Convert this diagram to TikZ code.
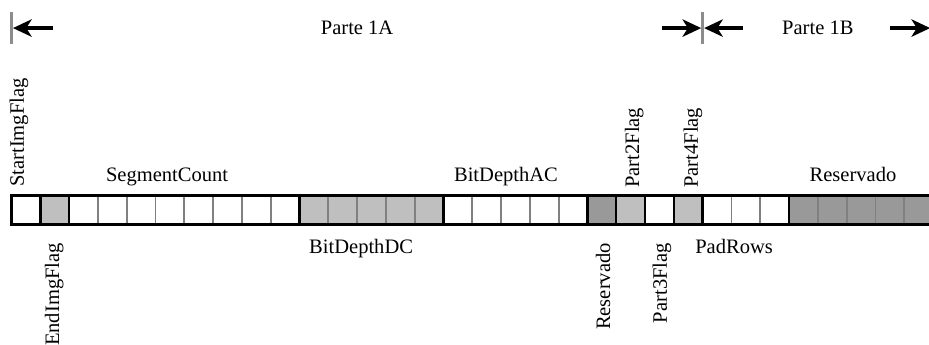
\documentclass[tikz,border=0pt]{standalone}
\usepackage{fontspec}
\setmainfont{Liberation Serif}
\usetikzlibrary{arrows.meta}
\definecolor{lightbit}{gray}{0.75}
\definecolor{darkbit}{gray}{0.6}
\tikzset{
  bitlabel/.style={inner sep=0pt,font=\fontsize{15.4}{18}\selectfont},
  uplabel/.style={bitlabel,rotate=90,anchor=west},
  downlabel/.style={bitlabel,rotate=90,anchor=east},
  partspan/.style={line width=2.4pt,-{Stealth[length=14pt,width=13pt,inset=4pt]}},
  partbound/.style={draw=black!45,line width=2pt},
  cellsep/.style={draw=black!50,line width=1.3pt},
  fieldbox/.style={draw=black,line width=1.8pt}
}
\begin{document}
\begin{tikzpicture}[x=21.6pt,y=21.6pt]
\useasboundingbox (-0.4,-4.184) rectangle (31.86,7.795);
% bit fields
\foreach \s/\e/\c in {0/1/white,1/2/lightbit,2/10/white,10/15/lightbit,15/20/white,
  20/21/darkbit,21/22/lightbit,22/23/white,23/24/lightbit,24/27/white,27/32/darkbit}
  \fill[\c](\s,0) rectangle (\e,1);
\foreach \i in {1,...,31}
  \draw[cellsep](\i,0)--(\i,1);
\foreach \s/\e in {0/1,1/2,2/10,10/15,15/20,20/21,21/22,22/23,23/24,24/27,27/32}
  \draw[fieldbox](\s,0) rectangle (\e,1);
% parts
\draw[partbound](0,7.38)--(0,6.27);
\draw[partbound](24,7.38)--(24,6.27);
\coordinate (a1) at (1.45,6.82);
\coordinate (a2) at (0.05,6.82);
\coordinate (b1) at (22.6,6.82);
\coordinate (b2) at (23.95,6.82);
\coordinate (c1) at (25.4,6.82);
\coordinate (c2) at (24.05,6.82);
\coordinate (d1) at (30.5,6.82);
\coordinate (d2) at (31.9,6.82);
\draw[partspan](a1)--(a2);
\draw[partspan](b1)--(b2);
\draw[partspan](c1)--(c2);
\draw[partspan](d1)--(d2);
\node[bitlabel] (p1a) at (12.0,6.82) {Parte 1A};
\node[bitlabel] (p1b) at (28.0,6.82) {Parte 1B};
% labels above
\node[uplabel] (start) at (0.26,1.30) {StartImgFlag};
\node[uplabel] (part2) at (21.62,1.27) {Part2Flag};
\node[uplabel] (part4) at (23.66,1.27) {Part4Flag};
\node[bitlabel,anchor=base] (segcount) at (5.4,1.48) {SegmentCount};
\node[bitlabel,anchor=base] (depthac) at (17.17,1.48) {BitDepthAC};
\node[bitlabel,anchor=base] (resv2) at (29.22,1.48) {Reservado};
% labels below
\node[downlabel] (endimg) at (1.48,-0.64) {EndImgFlag};
\node[downlabel] (resv1) at (20.54,-0.64) {Reservado};
\node[downlabel] (part3) at (22.59,-0.64) {Part3Flag};
\node[bitlabel,anchor=base] (depthdc) at (12.14,-1.02) {BitDepthDC};
\node[bitlabel,anchor=base] (padrows) at (25.09,-1.02) {PadRows};
\end{tikzpicture}
\end{document}
